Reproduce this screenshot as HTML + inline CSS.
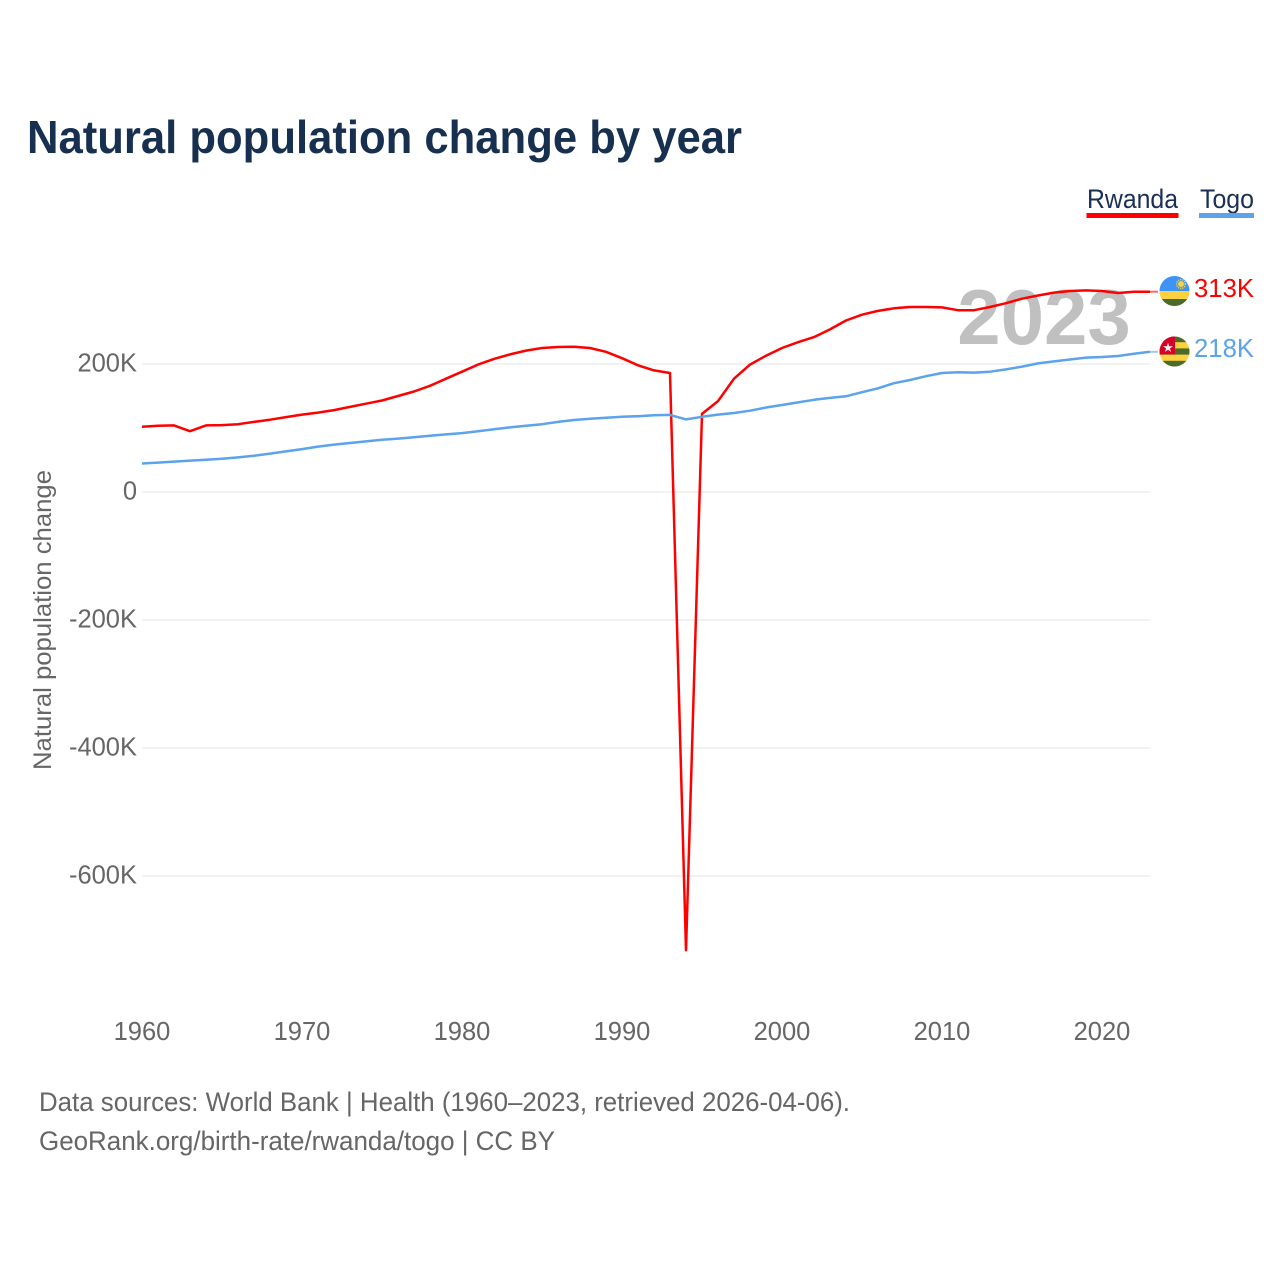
<!DOCTYPE html>
<html lang="en">
<head>
<meta charset="utf-8">
<title>Natural population change by year</title>
<style>
html,body{margin:0;padding:0;background:#fff;width:1280px;height:1280px;overflow:hidden}
svg{display:block;font-family:"Liberation Sans",sans-serif}
</style>
</head>
<body>
<svg id="chart" width="1280" height="1280" viewBox="0 0 1280 1280" xmlns="http://www.w3.org/2000/svg">
  <defs>
    <clipPath id="clip-rw"><circle id="clip-rw-c" cx="1174.5" cy="291" r="15"/></clipPath>
    <clipPath id="clip-tg"><circle id="clip-tg-c" cx="1174.5" cy="351.5" r="15"/></clipPath>
  </defs>
  <text x="27" y="153" font-size="46" font-weight="700" fill="#17304f" textLength="715" lengthAdjust="spacingAndGlyphs">Natural population change by year</text>

  <g>
    <text x="1087" y="208" font-size="27" fill="#1a2f55" textLength="91" lengthAdjust="spacingAndGlyphs">Rwanda</text>
    <rect x="1086.5" y="213" width="92" height="5" fill="#ff0000"/>
  </g>
  <g>
    <text x="1200" y="208" font-size="27" fill="#1a2f55" textLength="54" lengthAdjust="spacingAndGlyphs">Togo</text>
    <rect x="1199" y="213" width="55" height="5" fill="#5ba3ec"/>
  </g>

  <g id="grid"></g>
  <g id="yticks"></g>
  <g id="xticks"></g>

  <text transform="translate(51,770) rotate(-90)" x="0" y="0" font-size="25" fill="#666666" textLength="300" lengthAdjust="spacingAndGlyphs">Natural population change</text>

  <text x="1044" y="344" font-size="78" font-weight="700" fill="#c0c0c0" text-anchor="middle">2023</text>

  <g id="series"></g>

  <g id="flag-rw" clip-path="url(#clip-rw)">
    <rect x="1159" y="275" width="31" height="16" fill="#3d94f6"/>
    <rect x="1159" y="291" width="31" height="8" fill="#fdd13f"/>
    <rect x="1159" y="299" width="31" height="8" fill="#4a6b2a"/>
    <circle cx="1181" cy="284" r="3" fill="#fdd13f"/>
    <circle cx="1181" cy="284" r="4.4" fill="none" stroke="#fdd13f" stroke-width="1.4" stroke-dasharray="1.2 1"/>
  </g>
  <g id="flag-tg" clip-path="url(#clip-tg)">
    <rect x="1159" y="336" width="31" height="32" fill="#fdd13f"/>
    <rect x="1159" y="336" width="31" height="6.2" fill="#4a6b2a"/>
    <rect x="1159" y="348.4" width="31" height="6.2" fill="#4a6b2a"/>
    <rect x="1159" y="360.8" width="31" height="6.2" fill="#4a6b2a"/>
    <rect x="1159" y="336" width="16" height="18.4" fill="#d80027"/>
    <polygon points="1168,342.6 1169.2,346.2 1173,346.2 1169.9,348.4 1171.1,352 1168,349.8 1164.9,352 1166.1,348.4 1163,346.2 1166.8,346.2" fill="#f4f4f4"/>
  </g>

  <text id="end-rw" x="1254" y="297" font-size="26" fill="#ff0000" text-anchor="end" textLength="60" lengthAdjust="spacingAndGlyphs">313K</text>
  <text id="end-tg" x="1254" y="357" font-size="26" fill="#5ba3ec" text-anchor="end" textLength="60" lengthAdjust="spacingAndGlyphs">218K</text>

  <text x="39" y="1111" font-size="27" fill="#666666" textLength="811" lengthAdjust="spacingAndGlyphs">Data sources: World Bank | Health (1960–2023, retrieved 2026-04-06).</text>
  <text x="39" y="1150" font-size="27" fill="#666666" textLength="516" lengthAdjust="spacingAndGlyphs">GeoRank.org/birth-rate/rwanda/togo | CC BY</text>
</svg>
<script>
var startYear = 1960;
var rwandaValues = [102,103.5,104,95,104,104.5,106,109.5,113,117,121,124,128,133,138,143,150,157,166,177,188,199,208,215,221,225,226.5,227,225,219,209,198,190,186,-716,122,142,177,199,213,225,234,242,254,268,277,283,287,289,289,288.5,284,284,289,295,302,307,311.5,314,315,314,311,313,313];
var togoValues = [44.5,46,47.5,49,50.5,52,54,56.5,60,63.5,67,71,74,76.5,79,81.5,83.5,85.5,88,90,92,95,98,101,103.5,106,109.5,112.5,114.5,116,117.5,118.5,120,120.5,113.5,117.5,121,123.5,127,132,136,140,144,147,149.5,156,162,170,175,181,186,187,186.5,188,191.5,196,201,204,207,210,211,212.5,216,219];
var yTickValues = [200,0,-200,-400,-600];
var yTickLabels = ["200K","0","-200K","-400K","-600K"];
var xTickYears = [1960,1970,1980,1990,2000,2010,2020];

function xScale(year){ return 142 + (year - 1960) * 16; }
function yScale(v){ return 492 - v * 0.64; }

var NS = "http://www.w3.org/2000/svg";
var grid = document.getElementById("grid");
var yticks = document.getElementById("yticks");
var xticks = document.getElementById("xticks");
var series = document.getElementById("series");

yTickValues.forEach(function(v, i){
  var line = document.createElementNS(NS, "line");
  
  
  line.setAttribute("x1", 142);
  line.setAttribute("x2", 1150);
  line.setAttribute("y1", yScale(v));
  line.setAttribute("y2", yScale(v));
  line.setAttribute("stroke", "#eeeeee");
  line.setAttribute("stroke-width", "1.6");
  grid.appendChild(line);
  var t = document.createElementNS(NS, "text");
  
  
  t.setAttribute("x", 137);
  t.setAttribute("y", yScale(v) + 7.5);
  t.setAttribute("text-anchor", "end");
  t.setAttribute("font-size", "25.5");
  t.setAttribute("fill", "#666666");
  t.textContent = yTickLabels[i];
  yticks.appendChild(t);
});

xTickYears.forEach(function(year){
  var t = document.createElementNS(NS, "text");
  
  
  t.setAttribute("x", xScale(year));
  t.setAttribute("y", 1040);
  t.setAttribute("text-anchor", "middle");
  t.setAttribute("font-size", "25.5");
  t.setAttribute("fill", "#666666");
  t.textContent = String(year);
  xticks.appendChild(t);
});

function drawSeries(values, color, lineName, connectorName){
  var pts = values.map(function(v, i){
    return xScale(startYear + i).toFixed(1) + "," + yScale(v).toFixed(1);
  }).join(" ");
  var last = values[values.length - 1];
  var lastX = xScale(startYear + values.length - 1);
  var poly = document.createElementNS(NS, "polyline");
  
  
  poly.setAttribute("points", pts);
  poly.setAttribute("fill", "none");
  poly.setAttribute("stroke", color);
  poly.setAttribute("stroke-width", "2.5");
  poly.setAttribute("stroke-linejoin", "round");
  series.appendChild(poly);
  var conn = document.createElementNS(NS, "line");
  
  
  conn.setAttribute("x1", lastX);
  conn.setAttribute("x2", lastX + 8);
  conn.setAttribute("y1", yScale(last));
  conn.setAttribute("y2", yScale(last));
  conn.setAttribute("stroke", color);
  conn.setAttribute("stroke-width", "2");
  conn.setAttribute("stroke-opacity", "0.6");
  series.appendChild(conn);
}
drawSeries(rwandaValues, "#ff0000", "line-rwanda", "connector-rwanda");
drawSeries(togoValues, "#5ba3ec", "line-togo", "connector-togo");
</script>
</body>
</html>
